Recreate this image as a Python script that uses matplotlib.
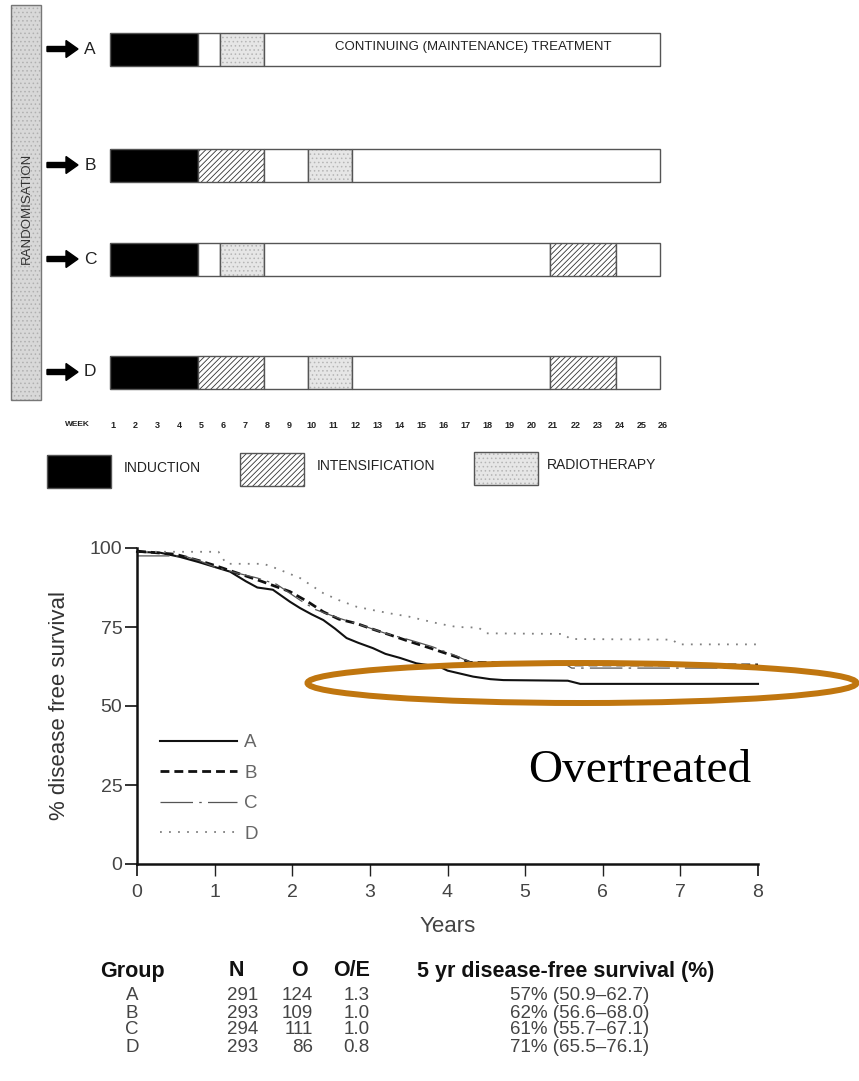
import matplotlib.pyplot as plt
from matplotlib import font_manager
from matplotlib.patches import Rectangle, Ellipse, FancyArrow
from matplotlib.lines import Line2D

# Treatment schedule for each arm: (start week, end week, phase)
arms = ['A', 'B', 'C', 'D']
schedule = {
    'A': [(0, 4, 'induction'), (4, 5, 'gap'), (5, 7, 'radiotherapy'),
          (7, 25, 'maintenance')],
    'B': [(0, 4, 'induction'), (4, 7, 'intensification'), (7, 9, 'gap'),
          (9, 11, 'radiotherapy'), (11, 25, 'maintenance')],
    'C': [(0, 4, 'induction'), (4, 5, 'gap'), (5, 7, 'radiotherapy'),
          (7, 20, 'maintenance'), (20, 23, 'intensification'), (23, 25, 'maintenance')],
    'D': [(0, 4, 'induction'), (4, 7, 'intensification'), (7, 9, 'gap'),
          (9, 11, 'radiotherapy'), (11, 20, 'maintenance'),
          (20, 23, 'intensification'), (23, 25, 'maintenance')],
}
week_labels = list(range(1, 27))
phase_names = ['INDUCTION', 'INTENSIFICATION', 'RADIOTHERAPY']

# Disease free survival curves (years, %)
years_a = [0, 0.3, 0.55, 0.8, 1.0, 1.2, 1.4, 1.55, 1.75, 1.97, 2.1, 2.25, 2.4, 2.55,
           2.7, 2.85, 3.04, 3.2, 3.39, 3.6, 3.9, 4.0, 4.33, 4.55, 4.72, 5.55, 5.71, 8.0]
dfs_a = [98.8, 98.5, 97.2, 95.5, 94.0, 92.5, 89.5, 87.5, 86.8, 83.0, 81.0, 79.0, 77.2,
         74.5, 71.5, 70.0, 68.3, 66.5, 65.2, 63.5, 62.4, 61.2, 59.3, 58.5, 58.2, 58.0,
         57.0, 57.0]
years_b = [0, 0.5, 0.8, 1.0, 1.3, 1.6, 1.97, 2.2, 2.4, 2.6, 2.83, 3.05, 3.26, 3.5,
           3.78, 4.0, 4.12, 4.29, 5.5, 5.6, 8.0]
dfs_b = [99.0, 98.0, 96.0, 94.5, 92.0, 89.5, 86.2, 83.0, 79.8, 77.5, 76.1, 74.2, 72.5,
         70.5, 68.3, 66.5, 65.5, 63.8, 63.6, 63.0, 63.0]
years_c = [0, 0.6, 0.8, 1.0, 1.3, 1.55, 1.8, 2.1, 2.3, 2.6, 2.9, 3.2, 3.5, 3.8, 4.1,
           4.3, 5.5, 5.6, 8.0]
dfs_c = [97.5, 97.5, 96.0, 94.0, 92.0, 90.5, 88.5, 83.5, 80.5, 77.8, 75.5, 73.0, 71.0,
         68.8, 66.0, 63.8, 63.5, 62.0, 62.0]
years_d = [0, 1.05, 1.15, 1.63, 1.8, 2.1, 2.4, 2.6, 2.83, 3.05, 3.26, 3.5, 3.69, 3.9,
           4.12, 4.4, 4.5, 5.5, 5.58, 6.9, 6.97, 8.0]
dfs_d = [98.8, 98.8, 95.0, 95.0, 93.5, 90.5, 85.7, 83.5, 81.4, 80.3, 79.3, 78.3, 77.2,
         76.0, 75.0, 74.8, 73.0, 72.8, 71.2, 71.0, 69.5, 69.5]

# Summary table
table_header = ['Group', 'N', 'O', 'O/E', '5 yr disease-free survival (%)']
table_n = [291, 293, 294, 293]
table_o = [124, 109, 111, 86]
table_oe = ['1.3', '1.0', '1.0', '0.8']
table_dfs = ['57% (50.9\u201362.7)', '62% (56.6\u201368.0)',
             '61% (55.7\u201367.1)', '71% (65.5\u201376.1)']

plt.rcParams['font.family'] = ['Liberation Sans', 'DejaVu Sans']
plt.rcParams['hatch.linewidth'] = 0.6
installed = {f.name for f in font_manager.fontManager.ttflist}
narrow = 'Liberation Sans Narrow' if 'Liberation Sans Narrow' in installed else 'Liberation Sans'

W, H = 859, 1081
fig = plt.figure(figsize=(W / 100, H / 100), dpi=100)

# ---- schedule diagram (x in weeks, y in pixels) ----
sch = fig.add_axes([0, 1 - 500 / H, 1, 500 / H])
sch.set_xlim(-5, (W - 110) / 22)
sch.set_ylim(500, 0)
sch.axis('off')

row_y = [49, 165, 259, 372]
bar_h = 33
styles = {
    'induction': dict(color='black', hatch=None, hc='black'),
    'intensification': dict(color='white', hatch='//////', hc='#333333'),
    'radiotherapy': dict(color='#e6e6e6', hatch='....', hc='#b5b5b5'),
    'maintenance': dict(color='white', hatch=None, hc='white'),
    'gap': dict(color='white', hatch=None, hc='white'),
}
for arm, y in zip(arms, row_y):
    for s, e, phase in schedule[arm]:
        st = styles[phase]
        sch.barh(y, e - s, left=s, height=bar_h, color=st['color'],
                 edgecolor=st['hc'], hatch=st['hatch'], linewidth=0)
        sch.barh(y, e - s, left=s, height=bar_h, fill=False,
                 edgecolor='#555555', linewidth=1.0)
sch.text(16.5, row_y[0] - 2, 'CONTINUING (MAINTENANCE) TREATMENT', ha='center',
         va='center', fontsize=9.5, color='#222222')

sch.text(-1.5, 425, 'WEEK', ha='center', va='center', fontsize=6,
         family=narrow, weight='bold', color='#222222')
for k in week_labels:
    sch.text(k - 0.85, 425, str(k), ha='center', va='center', fontsize=6.5,
             family=narrow, weight='bold', color='#222222')

# ---- pixel overlay for decorations and table ----
ov = fig.add_axes([0, 0, 1, 1], zorder=5)
ov.set_xlim(0, W)
ov.set_ylim(H, 0)
ov.axis('off')

ov.add_patch(Rectangle((11, 5), 30, 395, facecolor='#d8d8d8', edgecolor='#b0b0b0',
                       hatch='....', linewidth=0))
ov.add_patch(Rectangle((11, 5), 30, 395, fill=False, edgecolor='#777777', linewidth=1))
ov.text(27, 208, 'RANDOMISATION', rotation=90, ha='center', va='center',
        fontsize=9.5, color='#333333')

for arm, y in zip(arms, row_y):
    ov.add_patch(FancyArrow(47, y, 31, 0, width=5, head_width=17, head_length=12,
                            length_includes_head=True, color='black'))
    ov.text(90, y, arm, ha='center', va='center', fontsize=12.5, color='#222222')

key_boxes = [(47, 455), (240, 453), (474, 452)]
key_text_x = [124, 317, 547]
for name, (kx, ky), tx in zip(phase_names, key_boxes, key_text_x):
    st = styles[name.lower()]
    ov.add_patch(Rectangle((kx, ky), 64, 33, facecolor=st['color'], edgecolor=st['hc'],
                           hatch=st['hatch'], linewidth=0))
    ov.add_patch(Rectangle((kx, ky), 64, 33, fill=False, edgecolor='#555555', linewidth=1))
    ov.text(tx, ky + 13, name, ha='left', va='center', fontsize=10, color='#222222')

# ---- survival plot ----
ax = fig.add_axes([137 / W, 1 - 864 / H, (758 - 137) / W, (864 - 548) / H])
ax.set_xlim(0, 8)
ax.set_ylim(0, 100)
for side in ['top', 'right']:
    ax.spines[side].set_visible(False)
for side in ['left', 'bottom']:
    ax.spines[side].set_linewidth(1.8)
    ax.spines[side].set_color('#111111')

curves = [
    (years_a, dfs_a, dict(color='#111111', lw=1.5, ls='-')),
    (years_b, dfs_b, dict(color='#111111', lw=2.0, ls=(0, (3.2, 1.8)))),
    (years_c, dfs_c, dict(color='#555555', lw=0.9, ls=(0, (26, 5, 2, 5)))),
    (years_d, dfs_d, dict(color='#808080', lw=1.3, ls=(0, (1, 4)))),
]
handles = []
for (xs, ys, st), arm in zip(curves, arms):
    ax.plot(xs, ys, color=st['color'], linewidth=st['lw'], linestyle=st['ls'],
            clip_on=False)
    handles.append(Line2D([], [], color=st['color'], linewidth=st['lw'],
                          linestyle=st['ls']))

ax.set_xticks(range(0, 9))
ax.set_yticks([0, 25, 50, 75, 100])
ax.tick_params(axis='both', direction='out', length=8.5, width=1.3, colors='#222222',
               labelsize=14, labelcolor='#444444')
ax.tick_params(axis='y', pad=2)
ax.tick_params(axis='x', pad=6)
for i, t in enumerate(ax.xaxis.get_major_ticks()):
    if 0 < i < 8:
        t.tick1line.set_color('#999999')
        t.tick1line.set_markeredgewidth(1.0)
ax.set_xlabel('Years', fontsize=16, color='#444444', labelpad=11)
ax.set_ylabel('% disease free survival', fontsize=16, color='#333333', labelpad=14)

leg = ax.legend(handles, arms, loc='upper left', bbox_to_anchor=(160 / W, 1 - 734 / H),
                bbox_transform=fig.transFigure, frameon=False, fontsize=13.5,
                handlelength=4.1, handletextpad=0.4, labelspacing=0.72,
                borderpad=0, borderaxespad=0)
for txt in leg.get_texts():
    txt.set_color('#666666')

ov.add_patch(Ellipse((582, 683), 549, 40, fill=False, edgecolor='#c0760f', linewidth=4.3))
ov.text(640, 771, 'Overtreated', family=['Liberation Serif', 'DejaVu Serif'],
        fontsize=34, ha='center', va='center', color='black')

# ---- summary table ----
head_x = [132, 236, 299, 352, 566]
for hx, label in zip(head_x, table_header):
    ov.text(hx, 971, label, ha='center', va='center', fontsize=15.5, weight='bold',
            family=narrow, color='#111111')
row_ty = [996, 1013, 1030, 1047]
for i, y in enumerate(row_ty):
    kw = dict(va='center', fontsize=13.5, family=narrow, color='#444444')
    ov.text(132, y, arms[i], ha='center', **kw)
    ov.text(258, y, str(table_n[i]), ha='right', **kw)
    ov.text(313, y, str(table_o[i]), ha='right', **kw)
    ov.text(370, y, table_oe[i], ha='right', **kw)
    ov.text(580, y, table_dfs[i], ha='center', **kw)

fig.savefig('out.png', dpi=100)
